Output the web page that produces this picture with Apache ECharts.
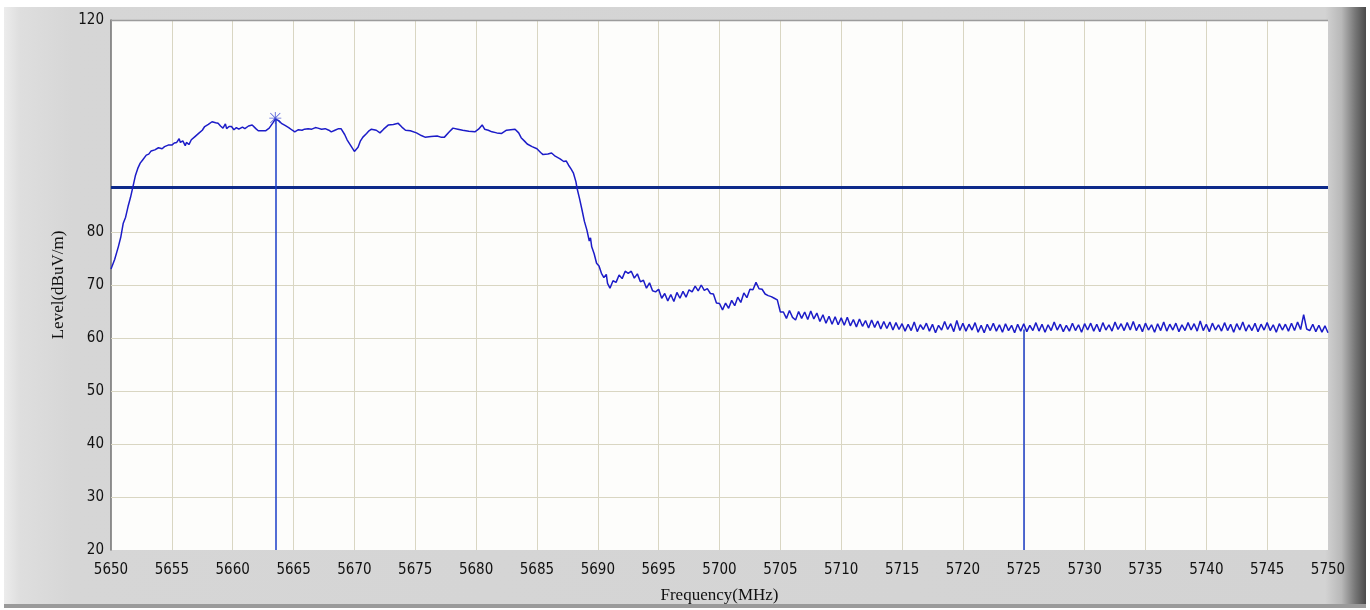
<!DOCTYPE html>
<html>
<head>
<meta charset="utf-8">
<script src="https://cdn.jsdelivr.net/npm/echarts@6/dist/echarts.min.js"></script>
<style>
html,body{margin:0;padding:0;background:#ffffff;}
#chart{width:1370px;height:610px;}
</style>
</head>
<body>
<div id="chart"></div>
<script>
// ---- data ----
const freqRange = [5650, 5750];
const freqTickStep = 5;
const levelRange = [20, 120];
const levelTickStep = 10;
const levelTickLabels = [20, 30, 40, 50, 60, 70, 80, 120];
const levelGridLines = [30, 40, 50, 60, 70, 80];
const limitLevel = 88.5;
const markerFreqs = [5663.5, 5725];
const markerLevels = [101.3, 61.6];
const peakFreq = 5663.5;
const peakLevel = 101.5;

const trace = [
[5650.0,73.0],[5650.3,74.8],[5650.6,77.2],[5650.8,79.0],[5651.0,81.6],[5651.2,82.8],[5651.4,84.8],[5651.6,86.5],
[5651.8,88.5],[5652.0,90.6],[5652.2,92.0],[5652.4,93.0],[5652.6,93.6],[5652.9,94.5],[5653.1,94.7],[5653.3,95.3],
[5653.6,95.5],[5653.9,95.9],[5654.2,95.7],[5654.4,96.1],[5654.7,96.4],[5655.0,96.4],[5655.2,96.8],[5655.4,96.9],
[5655.6,97.6],[5655.7,96.9],[5655.9,97.2],[5656.1,96.3],[5656.2,96.9],[5656.4,96.5],[5656.6,97.4],[5656.9,98.0],
[5657.2,98.6],[5657.5,99.2],[5657.7,99.9],[5658.0,100.3],[5658.3,100.8],[5658.6,100.6],[5658.8,100.5],[5659.0,100.0],
[5659.2,99.6],[5659.4,100.4],[5659.5,99.5],[5659.7,99.9],[5659.9,99.9],[5660.1,99.3],[5660.3,99.7],[5660.5,99.4],
[5660.8,99.8],[5661.0,99.5],[5661.3,100.0],[5661.6,100.2],[5661.9,99.5],[5662.1,99.1],[5662.4,99.1],[5662.7,99.1],
[5663.0,99.6],[5663.3,100.6],[5663.5,101.3],[5663.8,101.0],[5664.0,100.5],[5664.3,100.1],[5664.6,99.7],[5664.9,99.2],
[5665.1,98.9],[5665.4,99.3],[5665.7,99.2],[5665.9,99.4],[5666.2,99.5],[5666.5,99.4],[5666.8,99.7],[5667.0,99.6],
[5667.3,99.4],[5667.6,99.5],[5667.9,99.2],[5668.1,98.9],[5668.4,99.2],[5668.7,99.5],[5668.9,99.5],[5669.2,98.4],
[5669.4,97.4],[5669.7,96.3],[5670.0,95.2],[5670.3,96.0],[5670.5,97.2],[5670.7,97.9],[5671.0,98.6],[5671.2,99.1],
[5671.4,99.4],[5671.8,99.2],[5672.1,98.7],[5672.4,99.4],[5672.8,100.2],[5673.2,100.3],[5673.6,100.5],[5673.9,99.8],
[5674.2,99.2],[5674.6,99.1],[5675.1,98.7],[5675.5,98.2],[5675.8,97.9],[5676.3,98.0],[5676.8,98.1],[5677.1,97.9],
[5677.4,97.9],[5677.8,98.9],[5678.1,99.6],[5678.5,99.4],[5678.9,99.2],[5679.4,99.0],[5679.9,98.9],[5680.2,99.4],
[5680.5,100.2],[5680.7,99.4],[5681.0,99.2],[5681.3,98.9],[5681.7,98.7],[5682.1,98.6],[5682.5,99.2],[5683.2,99.4],
[5683.5,98.7],[5683.7,97.8],[5684.0,97.1],[5684.2,96.6],[5684.6,96.1],[5685.0,95.7],[5685.3,95.0],[5685.5,94.6],
[5685.9,94.7],[5686.2,94.9],[5686.5,94.3],[5686.9,93.8],[5687.2,93.3],[5687.4,93.4],[5687.6,92.6],[5687.8,91.9],
[5688.0,91.1],[5688.2,89.5],[5688.3,88.2],[5688.5,86.3],[5688.7,84.2],[5688.9,82.0],[5689.1,80.4],[5689.3,78.3],
[5689.4,78.9],[5689.5,77.2],[5689.7,75.9],[5689.9,74.1],[5690.1,73.6],[5690.3,72.2],[5690.5,71.4],[5690.7,72.0],
[5690.8,70.3],[5691.0,69.4],[5691.25,70.8],[5691.5,70.5],[5691.75,71.9],[5692.0,71.2],[5692.25,72.6],[5692.5,72.2],
[5692.75,72.6],[5693.0,71.3],[5693.25,72.1],[5693.5,70.6],[5693.75,70.9],[5694.0,69.4],[5694.25,70.4],[5694.5,68.9],
[5694.75,68.7],[5695.0,69.2],[5695.25,67.5],[5695.5,68.4],[5695.75,67.0],[5696.0,68.2],[5696.25,66.9],[5696.5,68.6],
[5696.75,67.5],[5697.0,68.8],[5697.25,67.7],[5697.5,69.1],[5697.75,68.7],[5698.0,69.8],[5698.25,68.9],[5698.5,70.0],
[5698.75,69.0],[5699.0,69.3],[5699.25,68.4],[5699.5,68.3],[5699.75,66.6],[5700.0,66.5],[5700.25,65.3],[5700.5,66.6],
[5700.75,65.6],[5701.0,67.1],[5701.25,66.1],[5701.5,67.7],[5701.75,66.7],[5702.0,68.5],[5702.25,67.6],[5702.5,69.2],
[5702.75,69.1],[5703.0,70.5],[5703.25,69.3],[5703.5,69.2],[5703.75,68.3],[5704.0,68.0],[5704.25,67.8],[5704.5,67.5],
[5704.75,67.2],[5705.0,64.9],[5705.25,64.9],[5705.5,63.7],[5705.75,65.2],[5706.0,63.9],[5706.25,63.4],[5706.5,65.0],
[5706.75,63.7],[5707.0,64.9],[5707.25,63.5],[5707.5,65.1],[5707.75,63.6],[5708.0,64.7],[5708.25,63.1],[5708.5,64.4],
[5708.75,62.8],[5709.0,64.1],[5709.25,62.6],[5709.5,64.0],[5709.75,62.5],[5710.0,63.8],[5710.25,62.4],[5710.5,63.9],
[5710.75,62.3],[5711.0,63.5],[5711.25,62.1],[5711.5,63.6],[5711.75,62.2],[5712.0,63.3],[5712.25,61.9],[5712.5,63.4],
[5712.75,62.0],[5713.0,63.2],[5713.25,61.7],[5713.5,63.1],[5713.75,61.8],[5714.0,63.0],[5714.25,61.5],[5714.5,62.9],
[5714.75,61.6],[5715.0,62.7],[5715.25,61.3],[5715.5,62.6],[5715.75,61.4],[5716.0,63.0],[5716.25,61.2],[5716.5,62.5],
[5716.75,61.6],[5717.0,62.8],[5717.25,61.3],[5717.5,62.6],[5717.75,61.0],[5718.0,62.4],[5718.25,61.5],[5718.5,63.1],
[5718.75,61.6],[5719.0,62.7],[5719.25,61.2],[5719.5,63.3],[5719.75,61.4],[5720.0,62.8],[5720.25,61.3],[5720.5,62.6],
[5720.75,61.5],[5721.0,62.9],[5721.25,61.1],[5721.5,62.4],[5721.75,61.0],[5722.0,62.6],[5722.25,61.4],[5722.5,62.8],
[5722.75,61.3],[5723.0,62.5],[5723.25,61.1],[5723.5,62.7],[5723.75,61.4],[5724.0,62.4],[5724.25,61.0],[5724.5,62.6],
[5724.75,61.3],[5725.0,62.7],[5725.25,61.2],[5725.5,62.4],[5725.75,61.4],[5726.0,62.9],[5726.25,61.3],[5726.5,62.6],
[5726.75,61.1],[5727.0,62.5],[5727.25,61.4],[5727.5,63.0],[5727.75,61.5],[5728.0,62.6],[5728.25,61.2],[5728.5,62.4],
[5728.75,61.3],[5729.0,62.8],[5729.25,61.4],[5729.5,62.5],[5729.75,61.1],[5730.0,62.7],[5730.25,61.5],[5730.5,62.8],
[5730.75,61.3],[5731.0,62.6],[5731.25,61.2],[5731.5,62.9],[5731.75,61.5],[5732.0,62.5],[5732.25,61.3],[5732.5,63.0],
[5732.75,61.6],[5733.0,62.7],[5733.25,61.4],[5733.5,62.9],[5733.75,61.5],[5734.0,63.1],[5734.25,61.4],[5734.5,62.6],
[5734.75,61.2],[5735.0,62.8],[5735.25,61.5],[5735.5,62.5],[5735.75,61.1],[5736.0,62.7],[5736.25,61.4],[5736.5,63.0],
[5736.75,61.3],[5737.0,62.6],[5737.25,61.5],[5737.5,62.8],[5737.75,61.2],[5738.0,62.5],[5738.25,61.4],[5738.5,62.9],
[5738.75,61.5],[5739.0,62.7],[5739.25,61.3],[5739.5,63.2],[5739.75,61.4],[5740.0,62.6],[5740.25,61.2],[5740.5,62.8],
[5740.75,61.5],[5741.0,62.5],[5741.25,61.3],[5741.5,62.9],[5741.75,61.4],[5742.0,62.6],[5742.25,61.1],[5742.5,62.7],
[5742.75,61.5],[5743.0,63.0],[5743.25,61.3],[5743.5,62.5],[5743.75,61.4],[5744.0,62.8],[5744.25,61.2],[5744.5,62.6],
[5744.75,61.5],[5745.0,62.9],[5745.25,61.4],[5745.5,62.5],[5745.75,61.1],[5746.0,62.7],[5746.25,61.5],[5746.5,62.6],
[5746.75,61.3],[5747.0,62.8],[5747.25,61.4],[5747.5,63.0],[5747.75,61.6],[5748.0,64.4],[5748.25,61.7],[5748.5,61.4],
[5748.75,62.6],[5749.0,61.2],[5749.25,62.4],[5749.5,61.1],[5749.75,62.3],[5750.0,61.0]
];

const xTitle = 'Frequency(MHz)';
const yTitle = 'Level(dBuV/m)';

// ---- chart ----
const chart = echarts.init(document.getElementById('chart'), null, {renderer: 'canvas'});
const tickFont = "'DejaVu Sans Condensed','Liberation Sans',sans-serif";
const titleFont = "'Liberation Serif','DejaVu Serif',serif";
const asterisk = 'path://M9.3,0L10.7,0L10.7,20L9.3,20Z M0,9.3L20,9.3L20,10.7L0,10.7Z M2.2,1.2L18.8,17.8L17.8,18.8L1.2,2.2Z M17.8,1.2L18.8,2.2L2.2,18.8L1.2,17.8Z';

const option = {
  animation: false,
  backgroundColor: '#ffffff',
  graphic: [
    {type: 'rect', z: -100, silent: true, shape: {x: 4, y: 7, width: 1362, height: 601},
     style: {fill: new echarts.graphic.LinearGradient(0, 0, 1, 0, [
       {offset: 0, color: '#ececec'}, {offset: 0.012, color: '#dedede'}, {offset: 0.05, color: '#d6d6d6'},
       {offset: 0.97, color: '#d3d3d3'}, {offset: 0.982, color: '#b8b8b8'}, {offset: 0.992, color: '#777777'}, {offset: 1, color: '#4a4a4a'}])}},
    {type: 'rect', z: -99, silent: true, shape: {x: 4, y: 604, width: 1362, height: 4}, style: {fill: '#9a9a9a'}},
    {type: 'rect', z: -98, silent: true, shape: {x: 111, y: 20, width: 1217, height: 530}, style: {fill: '#fdfdfb'}},
    {type: 'line', z: 50, silent: true, shape: {x1: 111, y1: 20.5, x2: 1328, y2: 20.5}, style: {stroke: '#9c9c9c', lineWidth: 1.5}}
  ],
  grid: {left: 111, right: 42, top: 20, bottom: 60, containLabel: false},
  xAxis: {
    type: 'value', min: freqRange[0], max: freqRange[1], interval: freqTickStep,
    name: xTitle, nameLocation: 'middle', nameGap: 37,
    nameTextStyle: {fontFamily: titleFont, fontSize: 17, color: '#111'},
    axisLine: {show: false}, axisTick: {show: false},
    axisLabel: {fontFamily: tickFont, fontSize: 15, color: '#111', margin: 13, formatter: v => String(v)},
    splitLine: {show: true, showMinLine: false, showMaxLine: false, lineStyle: {color: '#d9d6c2', width: 1}}
  },
  yAxis: {
    type: 'value', min: levelRange[0], max: levelRange[1], interval: levelTickStep,
    name: yTitle, nameLocation: 'middle', nameGap: 41, nameRotate: 90,
    nameTextStyle: {fontFamily: titleFont, fontSize: 17, color: '#111'},
    axisLine: {show: true, lineStyle: {color: '#707070', width: 1.5}},
    axisTick: {show: false},
    axisLabel: {fontFamily: tickFont, fontSize: 15, color: '#111', margin: 7,
      formatter: v => levelTickLabels.includes(v) ? String(v) : ''},
    splitLine: {show: false}
  },
  series: [
    {
      type: 'line', name: 'grid', data: [], silent: true,
      markLine: {silent: true, symbol: 'none', label: {show: false},
        lineStyle: {color: '#d9d6c2', width: 1, type: 'solid'},
        data: levelGridLines.map(v => ({yAxis: v}))}
    },
    {
      type: 'line', name: 'trace', data: trace, showSymbol: false, symbol: 'none',
      lineStyle: {color: '#1c1cc8', width: 1.5}, z: 5,
      markLine: {silent: true, symbol: 'none', label: {show: false}, animation: false,
        data: [
          [{coord: [freqRange[0], limitLevel], lineStyle: {color: '#0d2a8a', width: 3, type: 'solid'}},
           {coord: [freqRange[1], limitLevel]}],
          ...markerFreqs.map((f, i) => [
            {coord: [f, levelRange[0]], lineStyle: {color: '#1a3cc8', width: 1.5, type: 'solid'}},
            {coord: [f, markerLevels[i]]}])
        ]}
    },
    {
      type: 'scatter', name: 'peak', data: [[peakFreq, peakLevel]], symbol: asterisk,
      symbolSize: 12, itemStyle: {color: '#2a3ad0'}, z: 6, silent: true
    }
  ]
};
chart.setOption(option);
</script>
</body>
</html>
